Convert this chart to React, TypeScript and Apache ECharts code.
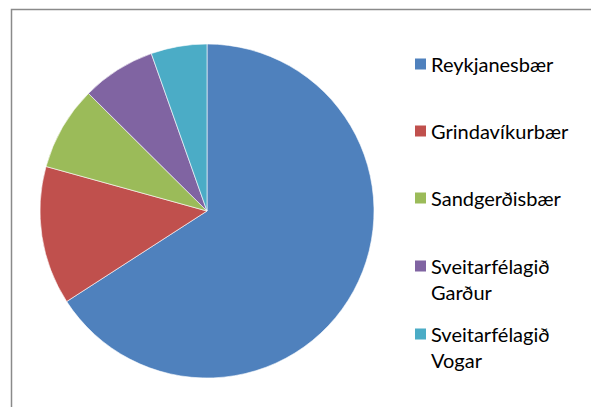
import React, { useEffect, useRef } from 'react';
import * as echarts from 'echarts';

const categories = [
  'Reykjanesbær',
  'Grindavíkurbær',
  'Sandgerðisbær',
  'Sveitarfélagið Garður',
  'Sveitarfélagið Vogar',
];
const values = [14000, 2850, 1730, 1520, 1150];
const legendLabels = [
  'Reykjanesbær',
  'Grindavíkurbær',
  'Sandgerðisbær',
  'Sveitarfélagið\nGarður',
  'Sveitarfélagið\nVogar',
];
const colors = ['#4F81BD', '#C0504D', '#9BBB59', '#8064A2', '#4BACC6'];

const legendTops = [51, 118, 185, 253, 321];

export default function App() {
  const ref = useRef<HTMLDivElement>(null);
  useEffect(() => {
    if (!ref.current) return;
    const chart = echarts.init(ref.current, null, { renderer: 'svg' });
    const legends = categories.map((name, i) => {
      const twoLine = legendLabels[i].includes('\n');
      return {
        data: [
          {
            name,
            icon: twoLine ? 'path://M0,0H11V11H0Z M0,37L0.1,37' : 'rect',
          },
        ],
        left: 415,
        top: legendTops[i],
        orient: 'vertical',
        padding: 0,
        itemWidth: 11,
        itemHeight: twoLine ? 37 : 11,
        itemGap: 0,
        selectedMode: false,
        formatter: () => legendLabels[i],
        textStyle: {
          fontFamily: 'Lato',
          fontSize: 20,
          color: '#000',
          lineHeight: 26,
        },
        itemStyle: { borderWidth: 0 },
      };
    });
    chart.setOption({
      animation: false,
      color: colors,
      legend: legends,
      graphic: [
        {
          type: 'rect',
          shape: { x: 11.5, y: 9.5, width: 700, height: 500 },
          style: { fill: 'none', stroke: '#8a8a8a', lineWidth: 1.5 },
          silent: true,
        },
      ],
      series: [
        {
          type: 'pie',
          center: [207, 211],
          radius: 167,
          startAngle: 90,
          clockwise: true,
          silent: true,
          label: { show: false },
          labelLine: { show: false },
          itemStyle: { borderColor: '#ffffff', borderWidth: 0.6 },
          emphasis: { disabled: true },
          data: categories.map((name, i) => ({ name, value: values[i] })),
        },
      ],
    });
    return () => chart.dispose();
  }, []);
  return (
    <div
      ref={ref}
      style={{ position: 'fixed', left: 0, top: 0, width: 591, height: 407, background: '#fff' }}
    />
  );
}
